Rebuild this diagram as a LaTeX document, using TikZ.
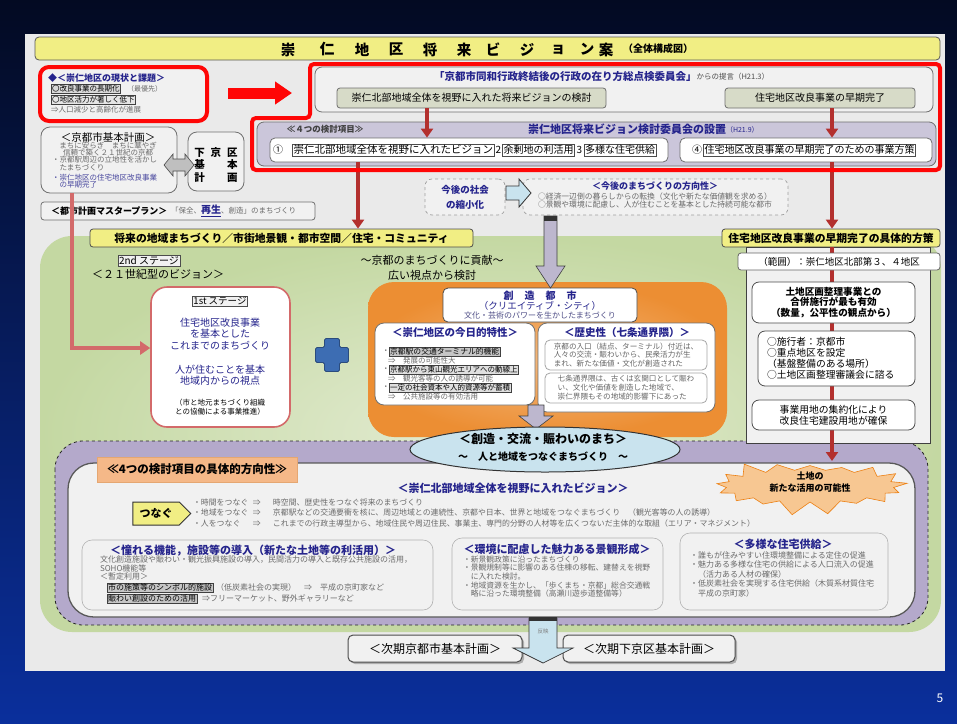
\documentclass[tikz,border=0pt]{standalone}
\usepackage{fontspec}
\setmainfont{Noto Sans CJK JP}
\usetikzlibrary{shapes.symbols,shapes.geometric,shapes.arrows,arrows.meta,shadows,fit}
\definecolor{bgtop}{HTML}{030A22}
\definecolor{bgbot}{HTML}{0A2F9C}
\definecolor{panel}{HTML}{EAEAEA}
\definecolor{tblue}{HTML}{25248C}
\definecolor{tgray}{HTML}{6A6A6A}
\definecolor{dred}{HTML}{B3302E}
\definecolor{bred}{HTML}{FF0606}
\definecolor{yel}{HTML}{F1EE84}
\definecolor{lav}{HTML}{CBC6DA}
\definecolor{subg}{HTML}{D7DBC8}
\definecolor{grnout}{HTML}{C4D8A2}
\definecolor{grnin}{HTML}{E4ECD4}
\definecolor{orgout}{HTML}{EC8E33}
\definecolor{orgin}{HTML}{F4B77A}
\definecolor{purp}{HTML}{B4A9CB}
\definecolor{pinkl}{HTML}{D36A6A}
\definecolor{lblue}{HTML}{C9E3EE}
\definecolor{peach}{HTML}{F5B888}
\definecolor{burst}{HTML}{F7C792}
\definecolor{bordg}{HTML}{6F6F6F}
\definecolor{arrg}{HTML}{BDB7CE}
\definecolor{plusb}{HTML}{3D6DB3}
\definecolor{innr}{HTML}{F1F1F1}
\newcommand\fsz[2]{\fontsize{#1}{#2}\selectfont}
\tikzset{
  txt/.style={inner sep=0pt, outer sep=0pt},
  box/.style={draw=bordg, line width=0.8pt, fill=white, rounded corners=5pt, inner sep=0pt},
  gbox/.style={box, fill=innr},
  dbox/.style={draw=gray!75, dashed, line width=0.7pt, fill=innr, rounded corners=7pt, inner sep=0pt},
  sbox/.style={draw=gray!60, line width=0.6pt, fill=innr, rounded corners=10pt, inner sep=0pt},
  hl/.style={draw=black!75, fill=gray!45, inner sep=0.8pt, line width=0.5pt},
  ib/.style={draw=black!70, fill=white, inner sep=1.2pt, line width=0.6pt},
  ylab/.style={draw=gray!60!black, line width=0.8pt, fill=yel, rounded corners=3pt, inner sep=0pt},
  darr/.style={draw=dred, line width=3.5pt, -{Triangle[width=12pt,length=9pt]}},
}
\begin{document}
\begin{tikzpicture}[x=1pt,y=-1pt]
\useasboundingbox (0,0) rectangle (957,723);
\shade[top color=bgtop, bottom color=bgbot] (0,0) rectangle (957,723);
\fill[panel] (25,34) rectangle (945,671);
\node[txt, text=white, font=\fsz{12}{12}] (pg) at (940,698) {5};

% coordinates for vertical connectors
\coordinate (x72) at (72,0);
\coordinate (x358) at (358,0);
\coordinate (x427) at (427,0);
\coordinate (x832) at (832,0);
\coordinate (y348) at (0,348);
\coordinate (tipb) at (832,461);

% ---------- title ----------
\node[fit={(35,37)(940,60)}, draw=gray!70!black, fill=yel, rounded corners=4pt, inner sep=0pt, line width=0.8pt] (title) {};
\foreach \xx/\cc [count=\i] in {288/崇,327/仁,362/地,396/区,430/将,464/来,493/ビ,527/ジ,558/ョ,587/ン,606/案}
  \node[txt, font=\fsz{14.5}{14.5}\bfseries] (tc\i) at (\xx,49.5) {\cc};
\node[txt, font=\fsz{10}{10}\bfseries] (tsub) at (658,48.5) {（全体構成図）};

% ---------- green region ----------
\shade[rounded corners=32pt, inner color=grnin, outer color=grnout] (40,236) rectangle (941,632);
% ---------- purple region ----------
\draw[fill=purp, draw=gray!30!black, dashed, line width=0.8pt, rounded corners=28pt] (55,441) rectangle (928,625);
\node[fit={(68,463)(915,617)}, draw=black!65, line width=1.3pt, fill=innr, rounded corners=26pt, inner sep=0pt] (iw) {};

% ---------- left red box ----------
\node[fit={(40,67)(207,121)}, draw=bred, line width=4pt, fill=innr, rounded corners=9pt, inner sep=0pt] (st) {};
\node[txt, anchor=west, text=tblue, font=\fsz{9}{9}\bfseries] (stt) at (48,78) {◆＜崇仁地区の現状と課題＞};
\node[hl, anchor=west, fill=gray!30, font=\fsz{7.5}{7.5}] (st1) at (51,89) {〇改良事業の長期化};
\node[txt, anchor=west, font=\fsz{7}{7}, text=tgray] (st1b) at (127,89) {（最優先）};
\node[hl, anchor=west, fill=gray!20, font=\fsz{7.5}{7.5}] (st2) at (51,99.5) {〇地区活力が著しく低下};
\node[txt, anchor=west, font=\fsz{7.5}{7.5}, text=tgray] (st3) at (51,109.5) {⇒人口減少と高齢化が進展};
\coordinate (ra1) at (228,93);
\coordinate (ra2) at (292,93);
\draw[bred, line width=11pt, -{Triangle[width=22pt,length=17pt]}] (ra1) -- (ra2);

% ---------- proposal box ----------
\node[gbox, fit={(315,67)(933,112)}, rounded corners=7pt] (tg) {};
\node[txt, anchor=west, text=tblue, font=\fsz{10.5}{10.5}\bfseries] (tg1) at (434,76.5) {「京都市同和行政終結後の行政の在り方総点検委員会」};
\node[txt, anchor=west, text=tgray!70!black, font=\fsz{7.5}{7.5}] (tg2) at (tg1.east) {からの提言（H21.3）};
\node[box, fill=subg, fit={(337,88)(606,108)}, rounded corners=3pt] (tA) {};
\node[txt, font=\fsz{10}{10}] (tAt) at (tA.center) {崇仁北部地域全体を視野に入れた将来ビジョンの検討};
\node[box, fill=subg, fit={(725,88)(915,108)}, rounded corners=3pt] (tB) {};
\node[txt, font=\fsz{10}{10}] (tBt) at (tB.center) {住宅地区改良事業の早期完了};

% ---------- committee box ----------
\node[box, fill=lav, fit={(257,122)(936,166)}, rounded corners=7pt] (lv) {};
\node[txt, font=\fsz{8.5}{8.5}\bfseries, text=black!75] (lv1) at (325,129.5) {≪４つの検討項目≫};
\node[txt, anchor=west, font=\fsz{11}{11}\bfseries, text=tblue] (lv2) at (528,129.5) {崇仁地区将来ビジョン検討委員会の設置};
\node[txt, anchor=west, font=\fsz{7}{7}, text=tblue] (lv3) at (lv2.east) {（H21.9）};
\node[box, fit={(270,138)(668,162)}, rounded corners=5pt] (w1) {};
\node[box, fit={(680,138)(932,162)}, rounded corners=5pt] (w2) {};
\node[txt, font=\fsz{10}{10}] (n1) at (278,150) {①};
\node[ib, anchor=west, font=\fsz{10.5}{10.5}] (v1) at (292,150) {崇仁北部地域全体を視野に入れたビジョン};
\node[txt, anchor=west, font=\fsz{10}{10}, inner xsep=1pt] (n2) at (v1.east) {2};
\node[ib, anchor=west, font=\fsz{10}{10}] (v2) at (n2.east) {余剰地の利活用};
\node[txt, anchor=west, font=\fsz{10}{10}, inner xsep=1.5pt] (n3) at (v2.east) {3};
\node[ib, anchor=west, font=\fsz{10}{10}] (v3) at (n3.east) {多様な住宅供給};
\node[txt, font=\fsz{10}{10}] (n4) at (697,150) {④};
\node[ib, anchor=west, font=\fsz{10}{10}] (v4) at (703,150) {住宅地区改良事業の早期完了のための事業方策};

\draw[darr] (tA.south -| x427) -- (w1.north -| x427);
\draw[darr] (tB.south -| x832) -- (w2.north -| x832);

% ---------- yellow labels ----------
\node[ylab, fit={(90,229)(473,247)}] (yl1) {};
\node[txt, font=\fsz{10.8}{10.8}\bfseries] (yl1t) at (yl1.center) {将来の地域まちづくり／市街地景観・都市空間／住宅・コミュニティ};
\node[ylab, fit={(722,229)(940,247)}] (yl2) {};
\node[txt, font=\fsz{10.8}{10.8}\bfseries] (yl2t) at (yl2.center) {住宅地区改良事業の早期完了の具体的方策};

\draw[darr] (w1.south -| x358) -- (yl1.north -| x358);
\draw[darr] (w2.south -| x832) -- (yl2.north -| x832);

% red outline
\draw[bred, line width=4pt, rounded corners=4pt] (310,64) -- (940,64) -- (940,170) -- (252,170) -- (252,118) -- (310,118) -- cycle;

% ---------- Kyoto basic plan ----------
\node[gbox, fit={(41,127)(177,193)}, rounded corners=9pt] (kp) {};
\node[txt, font=\fsz{10.5}{10.5}] (kpt) at (108,137.5) {＜京都市基本計画＞};
\node[txt, align=center, font=\fsz{7.5}{7.3}, text=tgray] (kpa) at (108,149.5) {まちに安らぎ　まちに華やぎ\\信頼で築く２１世紀の京都};
\node[txt, anchor=west, align=left, font=\fsz{7.5}{7.3}, text=tgray] (kpb) at (52,163.5) {・京都駅周辺の立地性を活かし\\　たまちづくり};
\node[txt, anchor=west, align=left, font=\fsz{7.5}{7.3}, text=tblue!85] (kpc) at (52,181.5) {・崇仁地区の住宅地区改良事業\\　の早期完了};
\node[gbox, fit={(188,132)(244,191)}, rounded corners=9pt] (sk) {};
\node[txt, align=center, font=\fsz{10.5}{12.5}\bfseries] (skt) at (216,165) {下\hspace{6pt}京\hspace{6pt}区\\基\hspace{22.5pt}本\\計\hspace{22.5pt}画};
\draw[fill=gray!50, draw=gray!60!black, line width=0.6pt] (164,165) -- (173,154) -- (173,159) -- (185,159) -- (185,154) -- (194,165) -- (185,176) -- (185,171) -- (173,171) -- (173,176) -- cycle;

\node[gbox, fit={(41,202)(315,220)}, rounded corners=3pt] (mp) {};
\node[txt, anchor=west, font=\fsz{9}{9}\bfseries] (mpt) at (51,211) {＜都市計画マスタープラン＞};
\node[txt, anchor=west, font=\fsz{7.5}{7.5}, text=tgray] (mp2) at (171,211) {「保全、};
\node[txt, anchor=west, font=\fsz{10}{10}\bfseries, text=tblue] (mp3) at (mp2.east) {\underline{再生}};
\node[txt, anchor=west, font=\fsz{7.5}{7.5}, text=tgray] (mp4) at (mp3.east) {、創造」のまちづくり};

% ---------- society / direction ----------
\node[dbox, fit={(425,179)(505,215)}] (sh) {};
\node[txt, align=center, font=\fsz{9.5}{15}\bfseries, text=tblue] (sht) at (sh.center) {今後の社会\\の縮小化};
\node[dbox, fit={(523,179)(788,215)}] (hk) {};
\node[txt, font=\fsz{9}{9}\bfseries, text=tblue] (hkt) at (655,186.5) {＜今後のまちづくりの方向性＞};
\node[txt, anchor=west, align=left, font=\fsz{7.8}{8.3}, text=tgray] (hkl) at (538,200.5) {○経済一辺倒の暮らしからの転換（文化や新たな価値観を求める）\\○景観や環境に配慮し、人が住むことを基本とした持続可能な都市};
\draw[fill=lblue, draw=gray!40!black, line width=0.8pt] (506,186) -- (519,186) -- (519,179) -- (531,193) -- (519,207) -- (519,200) -- (506,200) -- cycle;

% ---------- 2nd stage ----------
\node[ib, fill=innr, font=\fsz{10}{10}] (s2) at (149,261) {2nd ステージ};
\node[txt, font=\fsz{11}{11}] (s2b) at (158,274.5) {＜２１世紀型のビジョン＞};
\node[txt, align=center, font=\fsz{11}{15}] (kc) at (432,267.5) {～京都のまちづくりに貢献～\\広い視点から検討};

% ---------- 1st stage ----------
\node[fit={(151,287)(290,427)}, draw=pinkl, line width=1.6pt, fill=white, rounded corners=16pt, inner sep=0pt] (s1) {};
\node[ib, fill=innr, font=\fsz{9.5}{9.5}] (s1t) at (220,301) {1st ステージ};
\node[txt, align=center, font=\fsz{10}{11.3}, text=tblue] (s1a) at (220,334) {住宅地区改良事業\\を基本とした\\これまでのまちづくり};
\node[txt, align=center, font=\fsz{10}{11.3}, text=tblue] (s1b) at (220,375.5) {人が住むことを基本\\地域内からの視点};
\node[txt, align=center, font=\fsz{7.5}{9}] (s1c) at (220,407.5) {（市と地元まちづくり組織\\との協働による事業推進）};
\draw[pinkl, line width=4.5pt, -{Triangle[width=13pt,length=10pt]}] (kp.south -| x72) |- (s1.west |- y348);

% blue plus
\draw[fill=plusb, draw=plusb!70!black, line width=0.8pt, rounded corners=1.5pt] (324.5,338.5) -- (339.5,338.5) -- (339.5,347.5) -- (348.5,347.5) -- (348.5,362.5) -- (339.5,362.5) -- (339.5,371.5) -- (324.5,371.5) -- (324.5,362.5) -- (315.5,362.5) -- (315.5,347.5) -- (324.5,347.5) -- cycle;

% ---------- orange region ----------
\shade[rounded corners=26pt, inner color=orgin, outer color=orgout] (368,282) rectangle (727,437);
\node[box, fit={(443,288)(637,322)}, draw=gray!60!black] (sz) {};
\node[txt, font=\fsz{10}{10}\bfseries, text=tblue] (sz1) at (540,295.5) {創\hspace{11pt}造\hspace{11pt}都\hspace{11pt}市};
\node[txt, font=\fsz{9.5}{9.5}, text=tblue] (sz2) at (540,305.5) {（クリエイティブ・シティ）};
\node[txt, font=\fsz{8}{8}, text=tblue!55!gray] (sz3) at (540,315.5) {文化・芸術のパワーを生かしたまちづくり};
% gray down arrow
\draw[draw=gray!50!black, fill=arrg, line width=0.6pt] (544,216) -- (557,216) -- (557,266) -- (565,266) -- (550.5,288) -- (536,266) -- (544,266) -- cycle;
\fill[gray!40!black] (544,216) rectangle (557,221);

\node[box, fit={(375,323)(535,405)}, rounded corners=9pt] (kt) {};
\node[txt, font=\fsz{10.5}{10.5}\bfseries, text=tblue] (ktt) at (455,332.5) {＜崇仁地区の今日的特性＞};
\node[txt, anchor=west, font=\fsz{7.5}{7.5}, text=tgray] (k1a) at (382,352) {・};
\node[hl, anchor=west, font=\fsz{7.8}{7.8}] (k1) at (389,352) {京都駅の交通ターミナル的機能};
\node[txt, anchor=west, font=\fsz{7.5}{7.5}, text=tgray] (k1b) at (388,361) {⇒　発展の可能性大};
\node[txt, anchor=west, font=\fsz{7.5}{7.5}, text=tgray] (k2a) at (382,370) {・};
\node[hl, anchor=west, fill=gray!25, font=\fsz{7.5}{7.5}] (k2) at (389,370) {京都駅から東山観光エリアへの動線上};
\node[txt, anchor=west, font=\fsz{7.5}{7.5}, text=tgray] (k2b) at (388,379) {⇒　観光客等の人の誘導が可能};
\node[txt, anchor=west, font=\fsz{7.5}{7.5}, text=tgray] (k3a) at (382,388) {・};
\node[hl, anchor=west, fill=gray!25, font=\fsz{7.5}{7.5}] (k3) at (389,388) {一定の社会資本や人的資源等が蓄積};
\node[txt, anchor=west, font=\fsz{7.5}{7.5}, text=tgray] (k3b) at (388,397) {⇒　公共施設等の有効活用};

\node[box, fit={(538,323)(715,412)}, rounded corners=9pt] (rk) {};
\node[txt, font=\fsz{10.5}{10.5}\bfseries, text=tblue] (rkt) at (627,332.5) {＜歴史性（七条通界隈）＞};
\node[box, fit={(545,340)(707,370)}, draw=gray!70] (rk1) {};
\node[txt, align=left, font=\fsz{7.6}{8.9}, text=black!60] (rk1t) at (rk1.center) {京都の入口（結点、ターミナル）付近は、\\人々の交流・賑わいから、民衆活力が生\\まれ、新たな価値・文化が創造された};
\node[box, fit={(545,373)(707,403)}, draw=gray!70] (rk2) {};
\node[txt, align=left, font=\fsz{7.6}{8.9}, text=black!60] (rk2t) at (rk2.center) {七条通界隈は、古くは玄関口として賑わ\\い、文化や価値を創造した地域で、\\崇仁界隈もその地域的影響下にあった\hspace{7.6pt}};
\draw[draw=gray!50!black, fill=arrg, line width=0.6pt] (528,405) -- (544,405) -- (544,416) -- (553,416) -- (536,429) -- (519,416) -- (528,416) -- cycle;

% ---------- right column ----------
\node[fit={(746,247)(930,443)}, draw=black!75, line width=1pt, fill=innr, inner sep=0pt] (rc) {};
\draw[darr] (yl2.south -| x832) -- (tipb);
\node[box, fit={(738,253)(940,270)}, rounded corners=3pt, draw=black!60] (rg) {};
\node[txt, font=\fsz{9.5}{9.5}] (rgt) at (rg.center) {（範囲）：崇仁地区北部第３、４地区};
\node[box, fit={(752,282)(915,323)}, rounded corners=7pt, draw=black!70] (rb1) {};
\node[txt, align=center, font=\fsz{9.6}{10.5}\bfseries] (rb1t) at (rb1.center) {土地区画整理事業との\\合併施行が最も有効\\（数量，公平性の観点から）};
\node[box, fit={(758,331)(915,386)}, rounded corners=7pt, draw=black!70] (rb2) {};
\node[txt, anchor=west, align=left, font=\fsz{9.8}{11}] (rb2t) at (767,358.5) {○施行者：京都市\\○重点地区を設定\\（基盤整備のある場所）\\○土地区画整理審議会に諮る};
\node[box, fit={(752,400)(915,430)}, rounded corners=7pt, draw=black!70] (rb3) {};
\node[txt, align=center, font=\fsz{9.8}{11}] (rb3t) at (rb3.center) {事業用地の集約化により\\改良住宅建設用地が確保};

% ---------- ellipse ----------
\node[ellipse, draw=black!80, line width=1pt, fill=lblue, minimum width=270pt, minimum height=45pt, inner sep=0pt] (el) at (545,449.5) {};
\node[txt, font=\fsz{12}{12}\bfseries] (el1) at (543,438.5) {＜創造・交流・賑わいのまち＞};
\node[txt, font=\fsz{10}{10}\bfseries] (el2) at (543,456.5) {～　人と地域をつなぐまちづくり　～};

% ---------- bottom section ----------
\node[fit={(97,457)(297,482)}, fill=peach, draw=peach!70!brown, line width=0.6pt, inner sep=0pt] (ol) {};
\node[txt, font=\fsz{11.5}{11.5}\bfseries] (olt) at (ol.center) {≪4つの検討項目の具体的方向性≫};
\node[starburst, starburst points=17, starburst point height=14pt, random starburst=3, fill=burst, draw=orange!70!brown, line width=0.6pt, minimum width=196pt, minimum height=60pt, inner sep=0pt] (bs) at (810,486) {};
\node[txt, align=center, font=\fsz{9}{12}\bfseries] (bst) at (810,482) {土地の\\新たな活用の可能性};
\node[txt, font=\fsz{11}{11}\bfseries, text=tblue] (vt) at (513,488.5) {＜崇仁北部地域全体を視野に入れたビジョン＞};
\node[signal, signal to=east, fill=yel, draw=black!80, line width=1pt, minimum width=58pt, minimum height=23pt, inner sep=0pt, font=\fsz{11}{11}\bfseries] (tn) at (156,513.5) {つなぐ};
\node[txt, anchor=west, align=left, font=\fsz{7.9}{10.6}, text=tgray] (tnl) at (193,513) {\makebox[60pt][l]{・時間をつなぐ}\makebox[20pt][l]{⇒}時空間、歴史性をつなぐ将来のまちづくり\\\makebox[60pt][l]{・地域をつなぐ}\makebox[20pt][l]{⇒}京都駅などの交通要衝を核に、周辺地域との連続性、京都や日本、世界と地域をつなぐまちづくり　（観光客等の人の誘導）\\\makebox[60pt][l]{・人をつなぐ}\makebox[20pt][l]{⇒}これまでの行政主導型から、地域住民や周辺住民、事業主、専門的分野の人材等を広くつないだ主体的な取組（エリア・マネジメント）};

\node[sbox, fit={(82,540)(433,610)}] (ba) {};
\node[txt, font=\fsz{11}{11}\bfseries, text=tblue] (bat) at (253,550.5) {＜憧れる機能，施設等の導入（新たな土地等の利活用）＞};
\node[txt, anchor=west, align=left, font=\fsz{8}{8.6}, text=tgray] (ba1) at (100,568) {文化創造施設や賑わい・観光振興施設の導入，民間活力の導入と既存公共施設の活用，\\SOHO機能等\\＜暫定利用＞};
\node[hl, anchor=west, font=\fsz{8}{8}] (ba2) at (107,587.5) {市の施策等のシンボル的施設};
\node[txt, anchor=west, font=\fsz{8}{8}, text=tgray] (ba3) at ([xshift=3pt]ba2.east) {（低炭素社会の実現）　⇒　平成の京町家など};
\node[hl, anchor=west, font=\fsz{8}{8}] (ba4) at (107,598.5) {賑わい創設のための活用};
\node[txt, anchor=west, font=\fsz{8}{8}, text=tgray] (ba5) at ([xshift=5pt]ba4.east) {⇒フリーマーケット、野外ギャラリーなど};

\node[sbox, fit={(452,538)(663,610)}] (bb) {};
\node[txt, font=\fsz{11}{11}\bfseries, text=tblue] (bbt) at (557,549.5) {＜環境に配慮した魅力ある景観形成＞};
\node[txt, anchor=west, align=left, font=\fsz{7.8}{8.6}, text=tgray] (bbl) at (463,576.5) {・新景観政策に沿ったまちづくり\\・景観規制等に影響のある住棟の移転、建替えを視野\\　に入れた検討。\\・地域資源を生かし、「歩くまち・京都」総合交通戦\\　略に沿った環境整備（高瀬川遊歩道整備等）};

\node[sbox, fit={(680,533)(888,610)}] (bc) {};
\node[txt, font=\fsz{11}{11}\bfseries, text=tblue] (bct) at (783,544.5) {＜多様な住宅供給＞};
\node[txt, anchor=west, align=left, font=\fsz{8}{9.5}, text=tgray] (bcl) at (690,574) {・誰もが住みやすい住環境整備による定住の促進\\・魅力ある多様な住宅の供給による人口流入の促進\\　（活力ある人材の確保）\\・低炭素社会を実現する住宅供給（木質系材質住宅\\　平成の京町家）};

% ---------- next plans ----------
\node[fit={(348,635)(522,662)}, draw=black!70, line width=1pt, fill=innr, rounded corners=5pt, inner sep=0pt, drop shadow={shadow xshift=2pt, shadow yshift=-2pt, fill=black!55}] (nb1) {};
\node[txt, font=\fsz{12}{12}] (nb1t) at (nb1.center) {＜次期京都市基本計画＞};
\node[fit={(563,635)(735,662)}, draw=black!70, line width=1pt, fill=innr, rounded corners=5pt, inner sep=0pt, drop shadow={shadow xshift=2pt, shadow yshift=-2pt, fill=black!55}] (nb2) {};
\node[txt, font=\fsz{12}{12}] (nb2t) at (nb2.center) {＜次期下京区基本計画＞};
\draw[fill=lblue, draw=gray!40!black, line width=0.7pt] (529,618) -- (557,618) -- (557,648) -- (573,648) -- (543,663) -- (513,648) -- (529,648) -- cycle;
\fill[black!80] (529,617) rectangle (557,621);
\node[txt, font=\fsz{5.5}{5.5}, text=gray] (hy) at (543,631) {反映};
\end{tikzpicture}
\end{document}
